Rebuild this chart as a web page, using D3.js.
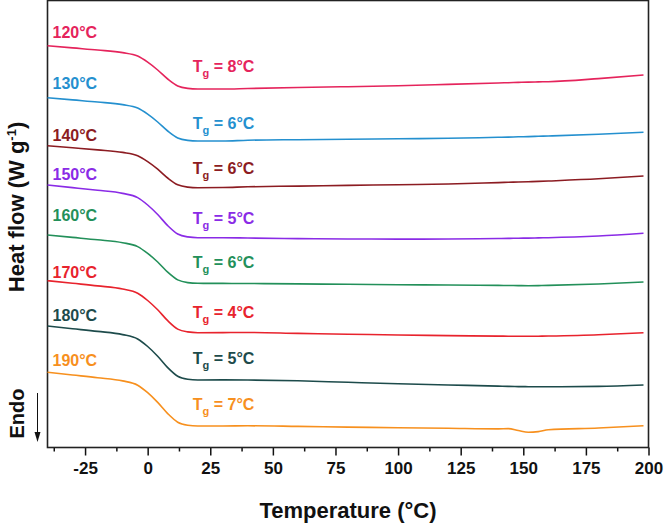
<!DOCTYPE html>
<html>
<head>
<meta charset="utf-8">
<script src="https://cdn.jsdelivr.net/npm/d3@7"></script>
<style>
  body { margin: 0; background: #fff; }
  svg { font-family: "Liberation Sans", Arial, sans-serif; font-weight: bold; }
</style>
</head>
<body>
<svg id="chart" width="666" height="523"></svg>
<script>
// Data (heat flow in arbitrary offset units)
const temps = [-40, -30, -20, -10, -4, 0, 4, 8, 12, 16, 20, 30, 40, 60, 80, 100, 120, 140, 144, 148, 152, 156, 160, 180, 198];

const seriesNames = ["120°C", "130°C", "140°C", "150°C", "160°C", "170°C", "180°C", "190°C"];
const tgValues = [8, 6, 6, 5, 6, 4, 5, 7];

const flow120 = [4.018, 3.996, 3.975, 3.949, 3.914, 3.853, 3.775, 3.685, 3.615, 3.591, 3.585, 3.585, 3.590, 3.600, 3.608, 3.617, 3.631, 3.645, 3.648, 3.651, 3.654, 3.656, 3.658, 3.689, 3.725];
const flow130 = [3.498, 3.476, 3.455, 3.429, 3.394, 3.333, 3.255, 3.165, 3.095, 3.071, 3.065, 3.065, 3.073, 3.078, 3.082, 3.087, 3.092, 3.102, 3.104, 3.107, 3.109, 3.112, 3.115, 3.132, 3.152];
const flow140 = [3.018, 2.997, 2.976, 2.951, 2.917, 2.858, 2.783, 2.695, 2.627, 2.604, 2.598, 2.600, 2.607, 2.614, 2.621, 2.628, 2.635, 2.649, 2.652, 2.655, 2.658, 2.661, 2.665, 2.687, 2.715];
const flow150 = [2.625, 2.599, 2.572, 2.541, 2.499, 2.425, 2.330, 2.219, 2.135, 2.106, 2.098, 2.098, 2.095, 2.089, 2.085, 2.084, 2.085, 2.090, 2.091, 2.093, 2.094, 2.096, 2.098, 2.115, 2.142];
const flow160 = [2.125, 2.101, 2.077, 2.048, 2.009, 1.941, 1.855, 1.753, 1.676, 1.649, 1.642, 1.641, 1.640, 1.636, 1.632, 1.628, 1.625, 1.621, 1.620, 1.619, 1.618, 1.619, 1.621, 1.635, 1.655];
const flow170 = [1.668, 1.642, 1.616, 1.585, 1.543, 1.470, 1.377, 1.268, 1.184, 1.156, 1.148, 1.149, 1.150, 1.141, 1.133, 1.125, 1.119, 1.114, 1.113, 1.112, 1.112, 1.113, 1.115, 1.128, 1.148];
const flow180 = [1.215, 1.188, 1.161, 1.129, 1.085, 1.010, 0.913, 0.799, 0.713, 0.683, 0.675, 0.676, 0.675, 0.667, 0.652, 0.638, 0.625, 0.614, 0.611, 0.609, 0.608, 0.607, 0.607, 0.611, 0.625];
const flow190 = [0.752, 0.725, 0.698, 0.666, 0.623, 0.548, 0.451, 0.339, 0.253, 0.223, 0.215, 0.215, 0.217, 0.211, 0.204, 0.198, 0.192, 0.186, 0.189, 0.170, 0.152, 0.159, 0.177, 0.195, 0.218];

const majorTicks = [-25, 0, 25, 50, 75, 100, 125, 150, 175, 200];
const minorTicks = [-37.5, -12.5, 12.5, 37.5, 62.5, 87.5, 112.5, 137.5, 162.5, 187.5];

const colors = ["#e5245c", "#2490cf", "#8c1c22", "#8a2be6", "#23905a", "#e8232d", "#1d4b4b", "#f7901e"];
// label nudges (px) relative to curve start / step bottom
const nameDy = [-13.7, -14.7, -10.7, -11, -19.5, -9, -11, -12.3];
const tgDy = [-23, -18, -19.7, -19.7, -21, -21, -21.7, -22];

const allFlows = [flow120, flow130, flow140, flow150, flow160, flow170, flow180, flow190];
const series = seriesNames.map((name, i) => ({
  name,
  tg: tgValues[i],
  color: colors[i],
  values: temps.map((t, j) => ({ t, v: allFlows[i][j] })),
}));

const svg = d3.select("#chart");
const margin = { top: 0.5, right: 17.5, bottom: 75.5, left: 47.5 };
const width = 666 - margin.left - margin.right;
const height = 523 - margin.top - margin.bottom;

const chartArea = svg.append("g").attr("transform", `translate(${margin.left},${margin.top})`);

const xScale = d3.scaleLinear().domain([-40, 200]).range([0, width]);
const yScale = d3.scaleLinear().domain([0, 4.47]).range([height, 0]);

// x axis, major + minor ticks
const xMajor = chartArea.append("g")
  .attr("transform", `translate(0,${height})`)
  .call(d3.axisBottom(xScale).tickValues(majorTicks).tickSize(8).tickPadding(6).tickFormat((d) => String(d)));
xMajor.select(".domain").remove();
xMajor.selectAll("line").attr("stroke", "#111").attr("stroke-width", 1.5);
xMajor.selectAll("text").attr("font-size", 17).attr("fill", "#111").attr("font-weight", "bold");

const xMinor = chartArea.append("g")
  .attr("transform", `translate(0,${height})`)
  .call(d3.axisBottom(xScale).tickValues(minorTicks).tickSize(4).tickFormat(""));
xMinor.select(".domain").remove();
xMinor.selectAll("line").attr("stroke", "#111").attr("stroke-width", 1.5);

// frame
chartArea.append("rect")
  .attr("width", width)
  .attr("height", height)
  .attr("fill", "none")
  .attr("stroke", "#222")
  .attr("stroke-width", 1.6);

// curves
const line = d3.line()
  .x((d) => xScale(d.t))
  .y((d) => yScale(d.v))
  .curve(d3.curveMonotoneX);

chartArea.selectAll(".curve")
  .data(series)
  .join("path")
  .attr("class", "curve")
  .attr("fill", "none")
  .attr("stroke", (d) => d.color)
  .attr("stroke-width", 1.6)
  .attr("d", (d) => line(d.values));

// series labels
chartArea.selectAll(".name")
  .data(series)
  .join("text")
  .attr("class", "name")
  .attr("x", xScale(-40) + 5)
  .attr("y", (d, i) => yScale(d.values[0].v) + nameDy[i] + 5.8)
  .attr("fill", (d) => d.color)
  .attr("font-size", 16)
  .text((d) => d.name);

// Tg labels
const tgLabels = chartArea.selectAll(".tg")
  .data(series)
  .join("text")
  .attr("class", "tg")
  .attr("x", xScale(18))
  .attr("y", (d, i) => yScale(d.values[10].v) + tgDy[i] + 5.8)
  .attr("fill", (d) => d.color)
  .attr("font-size", 16);
tgLabels.append("tspan").text("T");
tgLabels.append("tspan").attr("font-size", 11).attr("dy", 5).text("g");
tgLabels.append("tspan").attr("dy", -5).text((d) => ` = ${d.tg}°C`);

// axis titles
svg.append("text")
  .attr("x", margin.left + width / 2)
  .attr("y", 518)
  .attr("text-anchor", "middle")
  .attr("font-size", 22)
  .attr("fill", "#111")
  .text("Temperature (°C)");

const yTitle = svg.append("text")
  .attr("transform", "translate(24,207) rotate(-90)")
  .attr("text-anchor", "middle")
  .attr("font-size", 22)
  .attr("fill", "#111");
yTitle.append("tspan").text("Heat flow (W g");
yTitle.append("tspan").attr("font-size", 13).attr("dy", -8).text("-1");
yTitle.append("tspan").attr("dy", 8).text(")");

// Endo arrow
svg.append("text")
  .attr("transform", "translate(24,413.5) rotate(-90)")
  .attr("text-anchor", "middle")
  .attr("font-size", 20)
  .attr("fill", "#111")
  .text("Endo");

svg.append("line")
  .attr("x1", 37.5).attr("x2", 37.5)
  .attr("y1", 393).attr("y2", 433)
  .attr("stroke", "#111")
  .attr("stroke-width", 1);
svg.append("path")
  .attr("d", "M34.5,432 L40.5,432 L37.5,442 Z")
  .attr("fill", "#111");
</script>
</body>
</html>
